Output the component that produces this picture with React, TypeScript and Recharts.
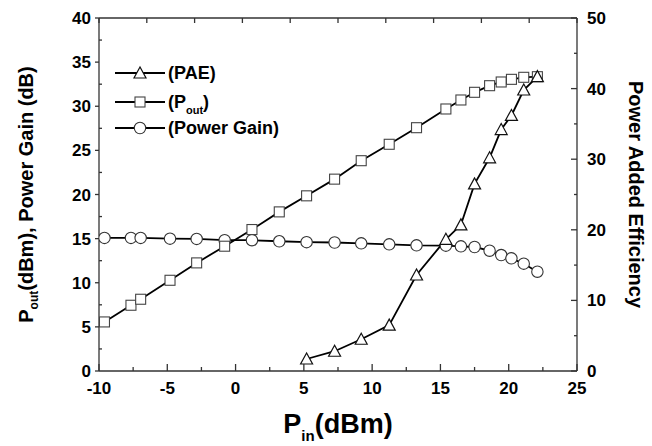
import React from 'react';
import { LineChart, Line, XAxis, YAxis, Legend } from 'recharts';

// input power sweep (dBm) and the three measured curves
const pinDbm = [-9.6, -7.66, -6.95, -4.8, -2.85, -0.8, 1.2, 3.2, 5.2, 7.25, 9.2, 11.25, 13.25, 15.4, 16.5, 17.5, 18.6, 19.45, 20.2, 21.1, 22.1];
const poutDbm = [5.56, 7.45, 8.13, 10.28, 12.25, 14.14, 16.03, 18.03, 19.85, 21.74, 23.83, 25.69, 27.57, 29.69, 30.71, 31.58, 32.33, 32.75, 33.05, 33.28, 33.35];
const gainDb = [15.08, 15.08, 15.08, 15.0, 14.97, 14.82, 14.82, 14.7, 14.6, 14.56, 14.47, 14.35, 14.24, 14.2, 14.13, 14.05, 13.63, 13.14, 12.77, 12.16, 11.25];
const paePct = [null, null, null, null, null, null, null, null, 1.7, 2.8, 4.5, 6.5, 13.6, 18.65, 20.7, 26.5, 30.2, 34.2, 36.2, 39.8, 41.7];

const xTicks = [-10, -7.5, -5, -2.5, 0, 2.5, 5, 7.5, 10, 12.5, 15, 17.5, 20, 22.5, 25];
const topTicks = [-10, -6.5, -3, 0.5, 4, 7.5, 11, 14.5, 18, 21.5, 25];
const leftTicks = [0, 2.5, 5, 7.5, 10, 12.5, 15, 17.5, 20, 22.5, 25, 27.5, 30, 32.5, 35, 37.5, 40];
const rightTicks = [0, 5, 10, 15, 20, 25, 30, 35, 40, 45, 50];

const data = pinDbm.map((x, i) => ({ x, pout: poutDbm[i], gain: gainDb[i], pae: paePct[i] }));

const FONT = '"Liberation Sans", Arial, sans-serif';
const AXIS = '#333';
const INK = '#000';

const tickText = { fontFamily: FONT, fontWeight: 700, fontSize: 17, fill: '#000' };

function BottomTick({ x, y, payload }: any) {
  const major = payload.value % 5 === 0;
  return (
    <g>
      <line x1={x} x2={x} y1={y} y2={y - (major ? 7 : 4)} stroke={AXIS} strokeWidth={1.3} />
      {major && <text x={x} y={y + 23} textAnchor="middle" {...tickText}>{payload.value}</text>}
    </g>
  );
}

function TopTick({ x, y }: any) {
  return <line x1={x} x2={x} y1={y} y2={y + 5} stroke={AXIS} strokeWidth={1.3} />;
}

function LeftTick({ x, y, payload }: any) {
  const major = payload.value % 5 === 0;
  return (
    <g>
      <line x1={x} x2={major ? x - 4 : x + 3} y1={y} y2={y} stroke={AXIS} strokeWidth={1.3} />
      {major && <text x={x - 8} y={y + 6} textAnchor="end" {...tickText}>{payload.value}</text>}
    </g>
  );
}

function RightTick({ x, y, payload }: any) {
  const major = payload.value % 10 === 0;
  return (
    <g>
      <line x1={x} x2={x - (major ? 6 : 3)} y1={y} y2={y} stroke={AXIS} strokeWidth={1.3} />
      {major && <text x={x + 10} y={y + 6} textAnchor="start" {...tickText}>{payload.value}</text>}
    </g>
  );
}

const Square = ({ cx, cy }: any) =>
  cx == null || cy == null ? <g /> : <rect x={cx - 5} y={cy - 5} width={10} height={10} fill="#fff" stroke="#444" strokeWidth={1.1} />;
const Circle = ({ cx, cy }: any) =>
  cx == null || cy == null ? <g /> : <circle cx={cx} cy={cy} r={5.7} fill="#fff" stroke="#333" strokeWidth={1.1} />;
const Triangle = ({ cx, cy }: any) =>
  cx == null || cy == null ? <g /> : (
    <polygon points={`${cx},${cy - 6} ${cx - 6},${cy + 5} ${cx + 6},${cy + 5}`} fill="#fff" stroke="#111" strokeWidth={1.2} />
  );

function LegendBox() {
  const rows = [
    { y: 13, mark: <Triangle cx={28} cy={13} />, text: <tspan>(PAE)</tspan> },
    { y: 42, mark: <Square cx={28} cy={42} />, text: <><tspan>(P</tspan><tspan fontSize={11} dy={6}>out</tspan><tspan dy={-6}>)</tspan></> },
    { y: 68, mark: <Circle cx={28} cy={68} />, text: <tspan>(Power Gain)</tspan> },
  ];
  return (
    <svg width={200} height={84}>
      {rows.map((r, i) => (
        <g key={i}>
          <line x1={3} x2={53} y1={r.y} y2={r.y} stroke={INK} strokeWidth={1.8} />
          {r.mark}
          <text x={56} y={r.y + 6} fontFamily={FONT} fontWeight={700} fontSize={18} fill="#000">{r.text}</text>
        </g>
      ))}
    </svg>
  );
}

function LeftTitle({ viewBox }: any) {
  const cy = viewBox.y + viewBox.height / 2;
  return (
    <text transform={`translate(33,${cy}) rotate(-90)`} textAnchor="middle" fontFamily={FONT} fontWeight={700} fontSize={20} fill="#000">
      <tspan>P</tspan><tspan fontSize={12} dy={5}>out</tspan><tspan dy={-5}>(dBm), Power Gain (dB)</tspan>
    </text>
  );
}

function RightTitle({ viewBox }: any) {
  const cy = viewBox.y + viewBox.height / 2;
  return (
    <text transform={`translate(629,${cy}) rotate(90)`} textAnchor="middle" fontFamily={FONT} fontWeight={700} fontSize={20} fill="#000">
      Power Added Efficiency
    </text>
  );
}

function BottomTitle({ viewBox }: any) {
  const cx = viewBox.x + viewBox.width / 2;
  return (
    <text x={cx} y={433} textAnchor="middle" fontFamily={FONT} fontWeight={700} fontSize={27} fill="#000">
      <tspan>P</tspan><tspan fontSize={15} dy={8}>in</tspan><tspan dy={-8}>(dBm)</tspan>
    </text>
  );
}

export default function App() {
  return (
    <div style={{ position: 'fixed', left: 0, top: 0, background: '#fff' }}>
      <LineChart width={652} height={446} data={data} margin={{ top: 17, right: 74, bottom: 74, left: 98 }}>
        <XAxis
          dataKey="x"
          type="number"
          domain={[-10, 25]}
          ticks={xTicks}
          interval={0}
          height={1}
          tickSize={0}
          tickMargin={0}
          tickLine={false}
          axisLine={{ stroke: AXIS, strokeWidth: 1.3 }}
          tick={<BottomTick />}
          label={{ content: <BottomTitle /> }}
          allowDataOverflow
        />
        <XAxis
          xAxisId="top"
          orientation="top"
          dataKey="x"
          type="number"
          domain={[-10, 25]}
          ticks={topTicks}
          interval={0}
          height={1}
          tickSize={0}
          tickMargin={0}
          tickLine={false}
          axisLine={{ stroke: AXIS, strokeWidth: 1.3 }}
          tick={<TopTick />}
          allowDataOverflow
        />
        <YAxis
          yAxisId="left"
          domain={[0, 40]}
          ticks={leftTicks}
          interval={0}
          width={1}
          tickSize={0}
          tickMargin={0}
          tickLine={false}
          axisLine={{ stroke: AXIS, strokeWidth: 1.3 }}
          tick={<LeftTick />}
          label={{ content: <LeftTitle /> }}
          allowDataOverflow
        />
        <YAxis
          yAxisId="right"
          orientation="right"
          domain={[0, 50]}
          ticks={rightTicks}
          interval={0}
          width={1}
          tickSize={0}
          tickMargin={0}
          tickLine={false}
          axisLine={{ stroke: AXIS, strokeWidth: 1.3 }}
          tick={<RightTick />}
          label={{ content: <RightTitle /> }}
          allowDataOverflow
        />
        <Legend
          layout="vertical"
          align="center"
          verticalAlign="middle"
          wrapperStyle={{ left: 112, top: 60, width: 200, height: 84 }}
          content={<LegendBox />}
        />
        <Line yAxisId="left" dataKey="gain" stroke={INK} strokeWidth={1.8} dot={<Circle />} isAnimationActive={false} />
        <Line yAxisId="left" dataKey="pout" stroke={INK} strokeWidth={1.8} dot={<Square />} isAnimationActive={false} />
        <Line yAxisId="right" dataKey="pae" stroke={INK} strokeWidth={1.8} dot={<Triangle />} isAnimationActive={false} />
      </LineChart>
    </div>
  );
}
